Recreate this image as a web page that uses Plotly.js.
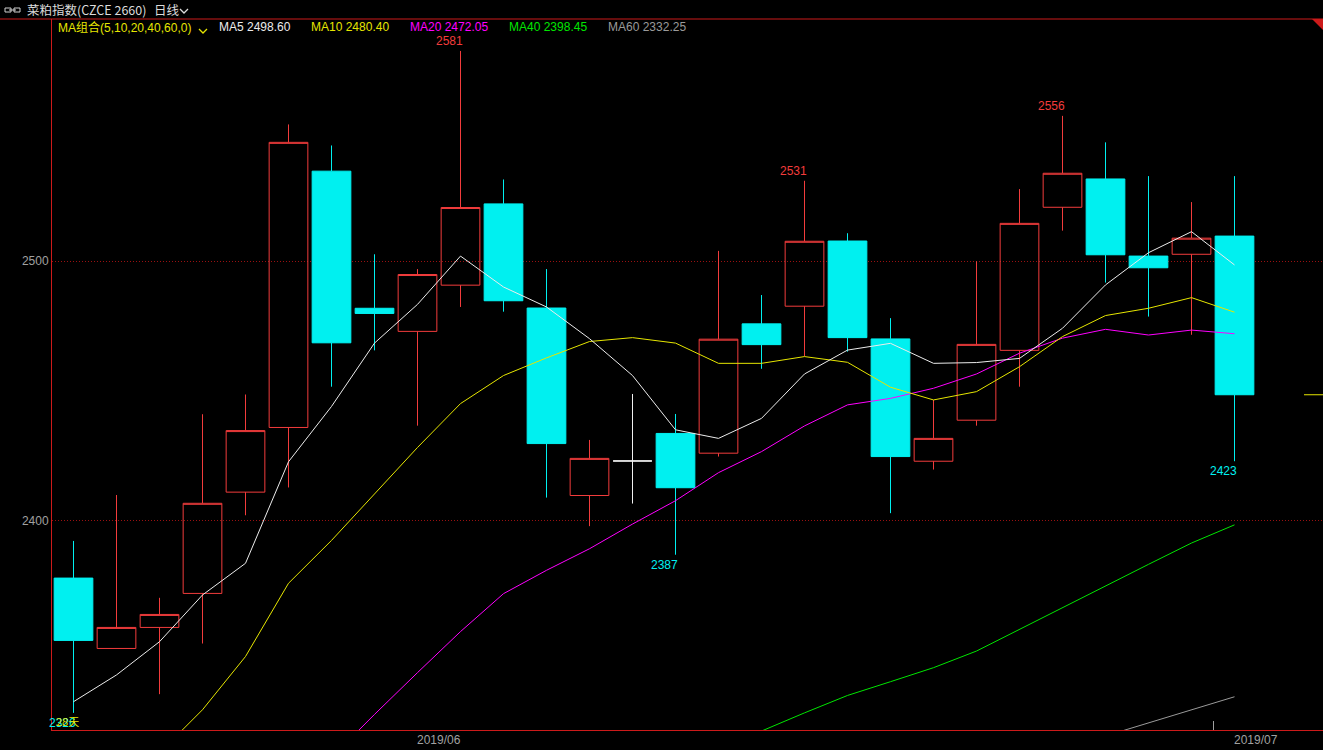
<!DOCTYPE html>
<html>
<head>
<meta charset="utf-8">
<script src="https://cdn.plot.ly/plotly-3.0.1.min.js"></script>
<style>
  html, body { margin: 0; padding: 0; background: #000; }
  #chart { width: 1323px; height: 750px; }
</style>
</head>
<body>
<div id="chart"></div>
<script>
// ---------------- data ----------------
const dates = ['2019-05-22','2019-05-23','2019-05-24','2019-05-27','2019-05-28','2019-05-29','2019-05-30','2019-05-31',
  '2019-06-03','2019-06-04','2019-06-05','2019-06-06','2019-06-10','2019-06-11','2019-06-12','2019-06-13','2019-06-14',
  '2019-06-17','2019-06-18','2019-06-19','2019-06-20','2019-06-21','2019-06-24','2019-06-25','2019-06-26','2019-06-27',
  '2019-06-28','2019-07-01'];

const openP  = [2378.0, 2350.9, 2359.0, 2372.1, 2411.1, 2436.0, 2534.7, 2481.9, 2473.0, 2490.8, 2522.1, 2482.0, 2409.8, 2423.1,
                2433.7, 2426.1, 2475.9, 2482.7, 2507.8, 2470.1, 2423.0, 2438.8, 2465.7, 2520.8, 2531.7, 2502.0, 2502.7, 2509.7];
const highP  = [2392.3, 2410.0, 2370.4, 2441.1, 2448.7, 2552.7, 2544.6, 2502.7, 2497.0, 2581.0, 2531.5, 2497.0, 2431.2, 2448.9,
                2441.2, 2504.0, 2487.0, 2531.0, 2510.8, 2478.1, 2446.6, 2500.0, 2527.8, 2556.0, 2545.8, 2532.8, 2522.8, 2532.8];
const lowP   = [2326.1, 2350.9, 2333.3, 2352.8, 2402.2, 2412.9, 2451.7, 2465.7, 2436.7, 2482.4, 2480.6, 2409.0, 2398.0, 2406.7,
                2387.0, 2424.8, 2458.6, 2463.4, 2465.2, 2403.0, 2419.8, 2436.7, 2451.7, 2511.8, 2491.8, 2478.7, 2471.7, 2423.0];
const closeP = [2354.0, 2359.0, 2364.0, 2406.8, 2434.8, 2545.8, 2468.6, 2479.9, 2494.9, 2520.7, 2484.8, 2429.8, 2424.1, 2423.1,
                2412.8, 2470.0, 2467.9, 2507.7, 2470.6, 2424.8, 2431.8, 2468.0, 2514.6, 2533.9, 2502.5, 2497.5, 2508.9, 2448.6];

const ma5  = [2330.4, 2340.7, 2353.5, 2371.5, 2383.7, 2422.8, 2444.1, 2468.5, 2483.4, 2502.0, 2490.1, 2482.4, 2470.2, 2456.0,
              2435.1, 2431.8, 2439.5, 2456.6, 2465.8, 2468.4, 2460.7, 2461.0, 2462.6, 2474.2, 2490.9, 2503.3, 2511.4, 2498.6];
const ma10 = [null, null, 2310.7, 2327.3, 2347.8, 2376.0, 2392.5, 2410.6, 2428.3, 2445.2, 2456.0, 2462.8, 2469.1, 2470.6,
              2468.5, 2460.7, 2460.7, 2463.3, 2461.1, 2451.5, 2446.6, 2449.8, 2459.4, 2471.0, 2479.1, 2481.9, 2486.0, 2480.4];
const ma20 = [null, null, null, null, null, null, 2308.9, 2325.5, 2341.6, 2357.4, 2372.0, 2381.0, 2389.3, 2398.8,
              2407.8, 2418.6, 2426.7, 2436.6, 2444.7, 2447.2, 2451.1, 2456.6, 2464.6, 2470.4, 2473.8, 2471.6, 2473.5, 2472.1];
const ma40 = [null, null, null, null, null, null, null, null, null, null, null, null, null, null,
              null, 2312.7, 2319.1, 2326.1, 2332.8, 2338.1, 2343.5, 2349.9, 2358.3, 2366.6, 2375.0, 2383.3, 2391.5, 2398.5];
const ma60 = [null, null, null, null, null, null, null, null, null, null, null, null, null, null,
              null, null, null, null, null, null, null, null, null, null, 2317.2, 2322.3, 2327.4, 2332.3];

const maNames  = ['MA5', 'MA10', 'MA20', 'MA40', 'MA60'];
const maLast   = ['2498.60', '2480.40', '2472.05', '2398.45', '2332.25'];
const peakIdx  = [9, 17, 23];
const troughIdx = [14, 27, 0];
const yTicks   = [2400, 2500];
const titleText = '菜粕指数(CZCE 2660)';
const periodText = '日线';
const maGroupText = 'MA组合(5,10,20,40,60,0)';
const daysText = '28天';

// ---------------- styles ----------------
const RED = '#f23c3c', CYAN = '#00f0f0', BORDER = '#cc1a1a';
const maColors = ['#ececec', '#e6e600', '#ff00ff', '#00e600', '#9a9a9a'];
const W = 1323, H = 750, L = 52, T = 19, B = 20;
const PW = W - L, PH = H - T - B;
const STEP = 43;
const px = v => (v - L) / PW;          // pixel x -> paper
const py = v => (H - B - v) / PH;      // pixel y -> paper

const idx = dates.map((d, i) => i);

// split into normal candles and doji
const nIdx = idx.filter(i => openP[i] !== closeP[i]);
const dIdx = idx.filter(i => openP[i] === closeP[i]);
const pick = (arr, ids) => ids.map(i => arr[i]);

const traces = [
  {
    type: 'candlestick', x: nIdx, open: pick(openP, nIdx), high: pick(highP, nIdx),
    low: pick(lowP, nIdx), close: pick(closeP, nIdx), whiskerwidth: 0, hoverinfo: 'skip',
    increasing: {line: {color: RED, width: 1}, fillcolor: 'rgba(0,0,0,0)'},
    decreasing: {line: {color: CYAN, width: 1}, fillcolor: CYAN}
  },
  {
    type: 'candlestick', x: dIdx, open: pick(openP, dIdx), high: pick(highP, dIdx),
    low: pick(lowP, dIdx), close: pick(closeP, dIdx), whiskerwidth: 0, hoverinfo: 'skip',
    increasing: {line: {color: '#f0f0f0', width: 1}, fillcolor: '#f0f0f0'},
    decreasing: {line: {color: '#f0f0f0', width: 1}, fillcolor: '#f0f0f0'}
  }
];
[ma60, ma40, ma20, ma10, ma5].forEach((arr, k) => {
  const c = maColors[4 - k];
  traces.push({type: 'scatter', mode: 'lines', x: idx, y: arr, hoverinfo: 'skip',
    line: {color: c, width: 1}, connectgaps: false});
});

// month labels
const monthStarts = idx.filter(i => i > 0 && dates[i].slice(0, 7) !== dates[i - 1].slice(0, 7));
const annotations = monthStarts.map(i => ({
  x: i + 0.5, xref: 'x', y: 0, yref: 'paper', yanchor: 'top', yshift: -1,
  text: dates[i].slice(0, 7).replace('-', '/'), showarrow: false,
  font: {family: 'Liberation Sans, Arial', size: 12, color: '#a0a0a0'}
}));

// high / low markers
peakIdx.forEach(i => annotations.push({
  x: i, y: highP[i], xref: 'x', yref: 'y', text: String(Math.round(highP[i])), showarrow: false,
  yanchor: 'bottom', yshift: 1, xshift: -11, font: {family: 'Liberation Sans, Arial', size: 12, color: RED}
}));
troughIdx.forEach(i => annotations.push({
  x: i, y: lowP[i], xref: 'x', yref: 'y', text: String(Math.round(lowP[i])), showarrow: false,
  yanchor: 'top', yshift: -1, xshift: -11, font: {family: 'Liberation Sans, Arial', size: 12, color: CYAN}
}));
annotations.push({x: px(54), y: py(721), xref: 'paper', yref: 'paper', xanchor: 'left', yanchor: 'middle',
  text: daysText, showarrow: false, font: {family: 'Noto Sans CJK SC', size: 11, color: '#e6e600'}});

// header
annotations.push({x: px(25), y: py(10), xref: 'paper', yref: 'paper', xanchor: 'left', yanchor: 'middle',
  text: titleText, showarrow: false, font: {family: 'Noto Sans CJK SC', size: 12.5, color: '#dcdcdc'}});
annotations.push({x: px(152), y: py(10), xref: 'paper', yref: 'paper', xanchor: 'left', yanchor: 'middle',
  text: periodText, showarrow: false, font: {family: 'Noto Sans CJK SC', size: 12.5, color: '#dcdcdc'}});

// MA legend row
annotations.push({x: px(56), y: py(27), xref: 'paper', yref: 'paper', xanchor: 'left', yanchor: 'middle',
  text: maGroupText, showarrow: false, font: {family: 'Liberation Sans, Noto Sans CJK SC', size: 12, color: '#e6e600'}});
const legX = [217, 309, 408, 507, 606];
maNames.forEach((n, k) => annotations.push({
  x: px(legX[k]), y: py(27), xref: 'paper', yref: 'paper', xanchor: 'left', yanchor: 'middle',
  text: n + ' ' + maLast[k], showarrow: false,
  font: {family: 'Liberation Sans, Arial', size: 12, color: maColors[k]}
}));

const shapes = [
  // top border line across whole width
  {type: 'line', xref: 'paper', yref: 'paper', x0: px(0), x1: 1, y0: 1, y1: 1, line: {color: BORDER, width: 1}},
  // corner triangle
  {type: 'path', xref: 'paper', yref: 'paper', path: `M ${px(1312)} 1 L 1 1 L 1 ${py(30)} Z`,
   fillcolor: BORDER, line: {width: 0}},
  // last price marker
  {type: 'line', xref: 'paper', yref: 'y', x0: px(1304), x1: 1, y0: closeP[closeP.length - 1], y1: closeP[closeP.length - 1],
   line: {color: '#e6e600', width: 1}},
  // link icon
  {type: 'rect', xref: 'paper', yref: 'paper', x0: px(5), x1: px(11), y0: py(8), y1: py(12), line: {color: '#cfcfcf', width: 1}},
  {type: 'rect', xref: 'paper', yref: 'paper', x0: px(14), x1: px(20), y0: py(8), y1: py(12), line: {color: '#cfcfcf', width: 1}},
  {type: 'line', xref: 'paper', yref: 'paper', x0: px(9), x1: px(16), y0: py(10), y1: py(10), line: {color: '#cfcfcf', width: 1}},
  // chevrons
  {type: 'path', xref: 'paper', yref: 'paper', path: `M ${px(180)} ${py(9)} L ${px(184)} ${py(13)} L ${px(188)} ${py(9)}`,
   line: {color: '#dcdcdc', width: 1.3}},
  {type: 'path', xref: 'paper', yref: 'paper', path: `M ${px(199)} ${py(29)} L ${px(203)} ${py(33)} L ${px(207)} ${py(29)}`,
   line: {color: '#e6e600', width: 1.3}}
];

const r0 = -21.5 / STEP;
const layout = {
  width: W, height: H,
  paper_bgcolor: '#000', plot_bgcolor: '#000',
  margin: {l: L, r: 0, t: T, b: B, pad: 0},
  showlegend: false,
  boxgap: 0.1,
  boxgroupgap: 0,
  hovermode: false,
  xaxis: {
    type: 'linear', range: [r0, r0 + PW / STEP], fixedrange: true,
    showgrid: false, zeroline: false, showline: true, linecolor: BORDER, linewidth: 1,
    tickmode: 'array', tickvals: monthStarts.filter(i => i === idx.length - 1).map(i => i - 0.5),
    ticks: 'inside', ticklen: 9, tickcolor: '#a0a0a0', tickwidth: 1, showticklabels: false,
    rangeslider: {visible: false}
  },
  yaxis: {
    range: [2319.5, 2593.3], fixedrange: true,
    tickmode: 'array', tickvals: yTicks, ticktext: yTicks.map(String),
    tickfont: {family: 'Liberation Sans, Arial', size: 12, color: '#a0a0a0'},
    showgrid: true, gridcolor: '#9a1010', griddash: '1px,2px', gridwidth: 1,
    zeroline: false, showline: true, linecolor: BORDER, linewidth: 1, ticks: ''
  },
  annotations: annotations,
  shapes: shapes
};

Plotly.newPlot('chart', traces, layout, {displayModeBar: false, staticPlot: true});
</script>
</body>
</html>
